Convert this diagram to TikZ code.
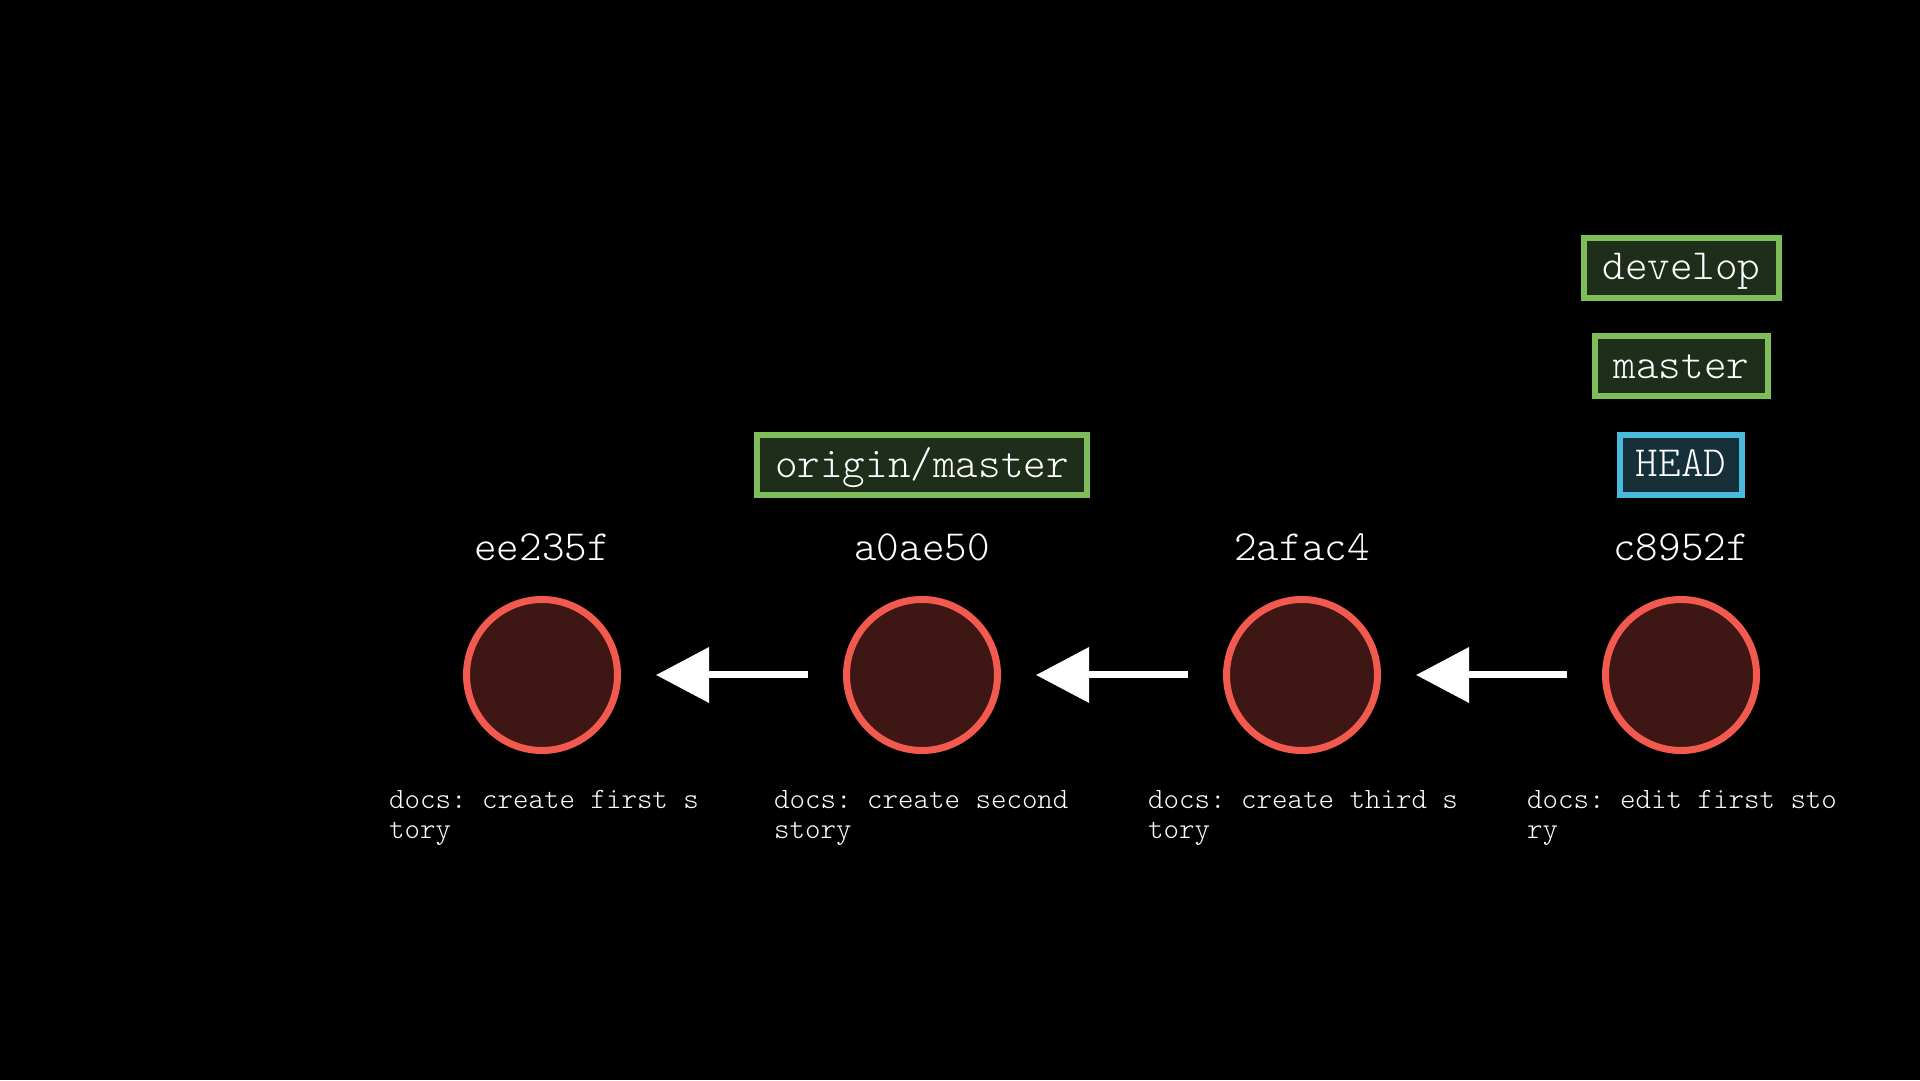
\documentclass[tikz,border=0pt]{standalone}
\usepackage{fontspec}
\setmonofont{Latin Modern Mono Light}
\usetikzlibrary{arrows.meta}
\definecolor{ringred}{HTML}{F25A50}
\definecolor{commitfill}{HTML}{3E1714}
\definecolor{branchgreen}{HTML}{7DBE5A}
\definecolor{branchfill}{HTML}{1E2E1B}
\definecolor{headblue}{HTML}{4AB9DC}
\definecolor{headfill}{HTML}{16303A}

\begin{document}
\begin{tikzpicture}[x=1pt,y=1pt,>={Triangle[length=53pt,width=54pt]},
  commit/.style={circle,draw=ringred,fill=commitfill,line width=7pt,minimum size=151pt,inner sep=0pt},
  hash/.style={anchor=base,text=white,inner sep=0pt,font=\ttfamily\fontsize{43}{46}\selectfont},
  msg/.style={anchor=base west,align=left,text=white,inner sep=0pt,
    font=\ttfamily\frenchspacing\fontsize{29.5}{30}\selectfont},
  branch/.style={draw=branchgreen,fill=branchfill,line width=6pt,minimum height=60pt,
    text height=24pt,text depth=0pt,inner ysep=0pt,inner xsep=18.5pt,text=white,
    font=\ttfamily\fontsize{43}{46}\selectfont},
  headref/.style={branch,draw=headblue,fill=headfill,inner xsep=16pt},
  parent/.style={->,white,line width=7pt,shorten <=35pt,shorten >=35pt}]
  \fill[black] (0,0) rectangle (1920,1080);
  % commits
  \node[commit] (ee235f) at (542,405) {};
  \node[commit] (a0ae50) at (922,405) {};
  \node[commit] (2afac4) at (1302,405) {};
  \node[commit] (c8952f) at (1681,405) {};
  \node[hash] (h1) at (542,519) {ee235f};
  \node[hash] (h2) at (922,519) {a0ae50};
  \node[hash] (h3) at (1302,519) {2afac4};
  \node[hash] (h4) at (1681,519) {c8952f};
  \node[msg] (m1) at (389,242) {docs: create first s\\tory};
  \node[msg] (m2) at (774,242) {docs: create second\\story};
  \node[msg] (m3) at (1148,242) {docs: create third s\\tory};
  \node[msg] (m4) at (1527,242) {docs: edit first sto\\ry};
  \draw[parent] (a0ae50) -- (ee235f);
  \draw[parent] (2afac4) -- (a0ae50);
  \draw[parent] (c8952f) -- (2afac4);
  % refs
  \node[branch] (originmaster) at (922,614.5) {origin/master};
  \node[headref] (head) at (1681,615) {HEAD};
  \node[branch] (master) at (1681.5,713.5) {master};
  \node[branch] (develop) at (1681.5,812) {develop};
\end{tikzpicture}
\end{document}
